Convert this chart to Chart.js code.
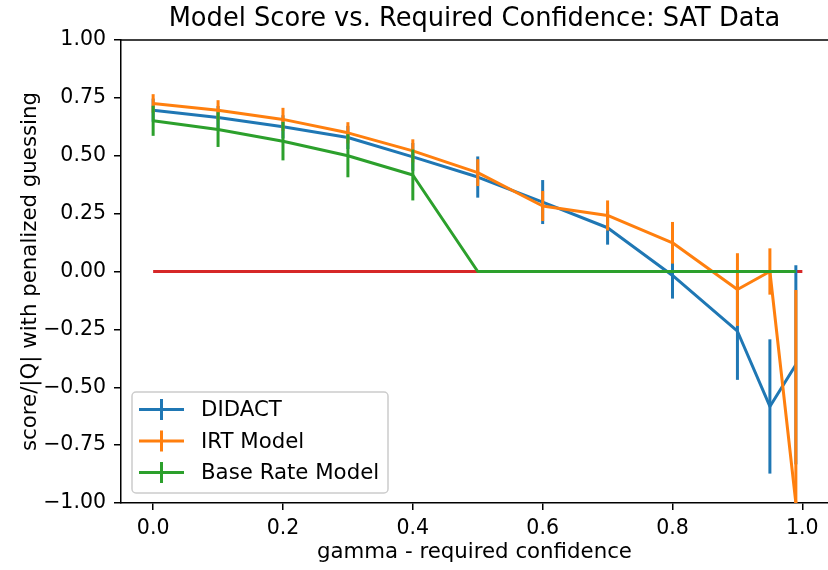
<!DOCTYPE html>
<html>
<head>
<meta charset="utf-8">
<script src="https://cdn.jsdelivr.net/npm/chart.js@4.4.1/dist/chart.umd.min.js"></script>
<style>
  html, body { margin: 0; padding: 0; background: #fff; }
  #myChart { display: block; }
</style>
</head>
<body>
<canvas id="myChart" width="828" height="570"></canvas>
<script>
// Values
const chartTitle = 'Model Score vs. Required Confidence: SAT Data';
const xLabel = 'gamma - required confidence';
const yLabel = 'score/|Q| with penalized guessing';

const gammas = [0, 0.1, 0.2, 0.3, 0.4, 0.5, 0.6, 0.7, 0.8, 0.9, 0.95, 0.99];

const didact    = [0.697, 0.665, 0.625, 0.579, 0.495, 0.408, 0.300, 0.189, -0.017, -0.258, -0.583, -0.403];
const didactErr = [0.050, 0.050, 0.050, 0.050, 0.060, 0.089, 0.095, 0.073, 0.100, 0.210, 0.290, 0.430];

const irt    = [0.726, 0.697, 0.657, 0.599, 0.521, 0.427, 0.283, 0.242, 0.124, -0.078, 0.000, -1.000];
const irtErr = [0.040, 0.043, 0.050, 0.046, 0.050, 0.058, 0.065, 0.065, 0.090, 0.157, 0.100, 0.920];

const baseRate    = [0.651, 0.613, 0.563, 0.500, 0.417, 0, 0, 0, 0, 0, 0, 0];
const baseRateErr = [0.065, 0.075, 0.083, 0.093, 0.110, 0, 0, 0, 0, 0, 0, 0];

const zeroLineX = [0, 1.0];
const zeroLineY = [0, 0];

const xTicks = [0, 0.2, 0.4, 0.6, 0.8, 1.0];
const yTicks = [-1, -0.75, -0.5, -0.25, 0, 0.25, 0.5, 0.75, 1];

const FONT = '"DejaVu Sans", "Liberation Sans", sans-serif';

function toPoints(xs, ys) {
    return xs.map((x, i) => ({ x: x, y: ys[i] }));
}

// Draws vertical error bars right after each dataset's line
const errorBarPlugin = {
    id: 'errorBars',
    afterDatasetDraw(chart, args) {
        const ds = chart.data.datasets[args.index];
        if (!ds.errors) return;
        const { ctx, chartArea, scales: { x, y } } = chart;
        ctx.save();
        ctx.beginPath();
        ctx.rect(chartArea.left, chartArea.top, chartArea.width, chartArea.height);
        ctx.clip();
        ctx.beginPath();
        ctx.strokeStyle = ds.borderColor;
        ctx.lineWidth = 3;
        ds.data.forEach((p, i) => {
            const e = ds.errors[i];
            if (!e) return;
            const px = x.getPixelForValue(p.x);
            ctx.beginPath();
            ctx.moveTo(px, y.getPixelForValue(p.y - e));
            ctx.lineTo(px, y.getPixelForValue(p.y + e));
            ctx.stroke();
        });
        ctx.restore();
    }
};

// Top spine (right one sits just off the canvas), title centred over the axes, legend
const framePlugin = {
    id: 'frame',
    afterDraw(chart) {
        const { ctx, chartArea: a } = chart;
        ctx.save();
        // keep the right edge clear, as in the reference
        ctx.fillStyle = '#fff';
        ctx.fillRect(chart.width - 3, a.top + 1, 3, a.bottom - a.top - 2);

        ctx.strokeStyle = '#000';
        ctx.lineWidth = 1.5;
        ctx.beginPath();
        ctx.moveTo(a.left, a.top);
        ctx.lineTo(chart.width, a.top);
        ctx.stroke();

        ctx.fillStyle = '#000';
        ctx.font = '25.7px ' + FONT;
        ctx.textAlign = 'center';
        ctx.textBaseline = 'middle';
        ctx.fillText(chartTitle, (a.left + a.right) / 2, 19);

        // legend box
        const bx = 132, by = 392, bw = 256, bh = 101, r = 4;
        ctx.beginPath();
        ctx.moveTo(bx + r, by);
        ctx.arcTo(bx + bw, by, bx + bw, by + bh, r);
        ctx.arcTo(bx + bw, by + bh, bx, by + bh, r);
        ctx.arcTo(bx, by + bh, bx, by, r);
        ctx.arcTo(bx, by, bx + bw, by, r);
        ctx.closePath();
        ctx.fillStyle = 'rgba(255,255,255,0.8)';
        ctx.fill();
        ctx.strokeStyle = '#cccccc';
        ctx.lineWidth = 1.5;
        ctx.stroke();

        const entries = chart.data.datasets.filter(d => d.errors);
        const rows = [409.5, 441, 472.5];
        ctx.font = '21.3px ' + FONT;
        ctx.textAlign = 'left';
        ctx.textBaseline = 'middle';
        entries.forEach((d, i) => {
            const ry = rows[i];
            ctx.strokeStyle = d.borderColor;
            ctx.lineWidth = 3;
            ctx.beginPath();
            ctx.moveTo(139, ry);
            ctx.lineTo(184, ry);
            ctx.moveTo(161.5, ry - 10.5);
            ctx.lineTo(161.5, ry + 10.5);
            ctx.stroke();
            ctx.fillStyle = '#000';
            ctx.fillText(d.label, 201, ry + 1);
        });
        ctx.restore();
    }
};

const lineStyle = {
    type: 'line',
    pointRadius: 0,
    borderWidth: 3,
    fill: false,
    tension: 0,
    borderJoinStyle: 'round'
};

const config = {
    type: 'line',
    data: {
        datasets: [
            Object.assign({}, lineStyle, {
                label: 'DIDACT',
                data: toPoints(gammas, didact),
                errors: didactErr,
                borderColor: '#1f77b4',
                order: 3
            }),
            Object.assign({}, lineStyle, {
                label: 'IRT Model',
                data: toPoints(gammas, irt),
                errors: irtErr,
                borderColor: '#ff7f0e',
                order: 2
            }),
            Object.assign({}, lineStyle, {
                label: 'Base Rate Model',
                data: toPoints(gammas, baseRate),
                errors: baseRateErr,
                borderColor: '#2ca02c',
                order: 1
            }),
            Object.assign({}, lineStyle, {
                label: 'zero',
                data: toPoints(zeroLineX, zeroLineY),
                borderColor: '#d62728',
                order: 4
            })
        ]
    },
    options: {
        responsive: false,
        animation: false,
        layout: { padding: { top: 40, left: 0, right: 0, bottom: 0 } },
        scales: {
            x: {
                type: 'linear',
                min: -0.0495,
                max: 1.0395,
                afterBuildTicks: axis => { axis.ticks = xTicks.map(v => ({ value: v })); },
                afterFit: s => { s.height = 67; },
                grid: { drawOnChartArea: false, drawTicks: true, tickLength: 7, color: '#000', lineWidth: 1.5 },
                border: { display: true, color: '#000', width: 1.5 },
                ticks: {
                    padding: 6,
                    color: '#000',
                    font: { family: FONT, size: 20.5 },
                    maxRotation: 0,
                    callback: v => v.toFixed(1)
                },
                title: {
                    display: true,
                    text: xLabel,
                    color: '#000',
                    font: { family: FONT, size: 21.3 },
                    padding: { top: 5, bottom: 5 }
                }
            },
            y: {
                type: 'linear',
                min: -1,
                max: 1,
                afterBuildTicks: axis => { axis.ticks = yTicks.map(v => ({ value: v })); },
                afterFit: s => { s.width = 121; },
                grid: { drawOnChartArea: false, drawTicks: true, tickLength: 7, color: '#000', lineWidth: 1.5 },
                border: { display: true, color: '#000', width: 1.5 },
                ticks: {
                    padding: 8,
                    color: '#000',
                    font: { family: FONT, size: 20.5 },
                    callback: v => v.toFixed(2).replace('-', '\u2212')
                },
                title: {
                    display: true,
                    text: yLabel,
                    color: '#000',
                    font: { family: FONT, size: 21.3 },
                    padding: { top: 18, bottom: 0 }
                }
            }
        },
        plugins: {
            legend: { display: false },
            tooltip: { enabled: false },
            title: { display: false }
        }
    },
    plugins: [errorBarPlugin, framePlugin]
};

window.myChart = new Chart(document.getElementById('myChart'), config);
</script>
</body>
</html>
